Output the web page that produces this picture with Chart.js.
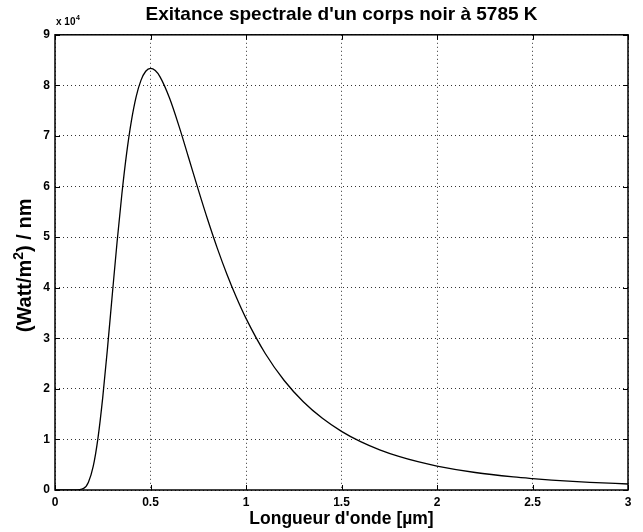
<!DOCTYPE html>
<html>
<head>
<meta charset="utf-8">
<script src="https://cdn.jsdelivr.net/npm/chart.js@4/dist/chart.umd.min.js"></script>
<style>
html,body{margin:0;padding:0;background:#fff;}
#wrap{width:643px;height:532px;position:relative;}
</style>
</head>
<body>
<div id="wrap"><canvas id="c" width="643" height="532"></canvas></div>
<script>
// Wavelength (µm)
const wavelengths = [0, 0.05, 0.10, 0.15, 0.175, 0.20, 0.225, 0.25, 0.275, 0.30, 0.325, 0.35, 0.375, 0.40, 0.425, 0.45, 0.475, 0.50, 0.525, 0.55, 0.60, 0.65, 0.70, 0.75, 0.80, 0.85, 0.90, 0.95, 1.00, 1.10, 1.20, 1.30, 1.40, 1.50, 1.60, 1.70, 1.80, 1.90, 2.00, 2.20, 2.40, 2.50, 2.60, 2.80, 3.00];
// Spectral exitance ((Watt/m^2)/nm)
const exitance = [0, 0, 0, 310, 1530, 4650, 10270, 18320, 28100, 38650, 49030, 58480, 66550, 72990, 77790, 80990, 82790, 83360, 82930, 81680, 77450, 71840, 65640, 59380, 53370, 47770, 42660, 38050, 33930, 27040, 21650, 17450, 14170, 11600, 9560, 7940, 6640, 5590, 4740, 3460, 2580, 2250, 1970, 1520, 1190];
const xTicks = [0, 0.5, 1, 1.5, 2, 2.5, 3];
const yTicks = [0, 1, 2, 3, 4, 5, 6, 7, 8, 9];
const yScaleFactor = 10000;
const titleText = "Exitance spectrale d'un corps noir à 5785 K";
const xTitle = "Longueur d'onde [µm]";
const yTitleParts = ["(Watt/m", "2", ") / nm"];

const FONT = "'Liberation Sans', Arial, Helvetica, sans-serif";

const points = wavelengths.map((w, i) => ({x: w, y: exitance[i]}));

const boxPlugin = {
  id: 'boxPlugin',
  afterDraw(chart) {
    const {ctx, chartArea: a, scales} = chart;
    const xs = scales.x, ys = scales.y;
    ctx.save();
    ctx.strokeStyle = '#000';
    ctx.lineWidth = 1;
    ctx.beginPath();
    const tl = 5;
    xTicks.forEach(v => {
      const px = Math.round(xs.getPixelForValue(v)) + 0.5;
      ctx.moveTo(px, a.bottom); ctx.lineTo(px, a.bottom - tl);
      ctx.moveTo(px, a.top); ctx.lineTo(px, a.top + tl);
    });
    yTicks.forEach(v => {
      const py = Math.round(ys.getPixelForValue(v * yScaleFactor)) + 0.5;
      ctx.moveTo(a.left, py); ctx.lineTo(a.left + tl, py);
      ctx.moveTo(a.right, py); ctx.lineTo(a.right - tl, py);
    });
    ctx.stroke();
    ctx.lineWidth = 1.5;
    ctx.strokeRect(a.left, a.top, a.right - a.left, a.bottom - a.top);
    // exponent label
    ctx.fillStyle = '#000';
    ctx.textBaseline = 'alphabetic';
    ctx.textAlign = 'left';
    ctx.font = "bold 10px " + FONT;
    const ex = a.left + 1, ey = a.top - 10;
    ctx.fillText('x 10', ex, ey);
    const w = ctx.measureText('x 10').width;
    ctx.font = "bold 7px " + FONT;
    ctx.fillText('4', ex + w + 0.5, ey - 5);
    // y axis title with superscript
    const big = "bold 20px " + FONT, small = "bold 14px " + FONT;
    ctx.font = big; const w1 = ctx.measureText(yTitleParts[0]).width;
    const w3 = ctx.measureText(yTitleParts[2]).width;
    ctx.font = small; const w2 = ctx.measureText(yTitleParts[1]).width;
    const total = w1 + w2 + w3;
    const cy = (a.top + a.bottom) / 2 + 3;
    ctx.translate(31, cy);
    ctx.rotate(-Math.PI / 2);
    let x0 = -total / 2;
    ctx.font = big; ctx.fillText(yTitleParts[0], x0, 0);
    ctx.font = small; ctx.fillText(yTitleParts[1], x0 + w1, -8);
    ctx.font = big; ctx.fillText(yTitleParts[2], x0 + w1 + w2, 0);
    ctx.restore();
  }
};

new Chart(document.getElementById('c'), {
  type: 'line',
  data: {
    datasets: [{
      data: points,
      borderColor: '#000',
      borderWidth: 1.3,
      pointRadius: 0,
      fill: false,
      cubicInterpolationMode: 'monotone'
    }]
  },
  options: {
    responsive: false,
    animation: false,
    layout: {padding: {left: 0, right: 15, top: 0, bottom: 0}},
    plugins: {
      legend: {display: false},
      tooltip: {enabled: false},
      title: {
        display: true,
        text: titleText,
        fullSize: false,
        color: '#000',
        font: {family: FONT, size: 19, weight: 'bold', lineHeight: 1.2},
        padding: {top: 3, bottom: 9}
      }
    },
    scales: {
      x: {
        type: 'linear',
        min: 0, max: 3,
        afterBuildTicks: (s) => { s.ticks = xTicks.map(v => ({value: v})); },
        afterFit: (s) => { s.height = 42; },
        ticks: {
          color: '#000',
          font: {family: FONT, size: 12, weight: 'bold'},
          padding: 5,
          maxRotation: 0,
          callback: (v) => String(v)
        },
        grid: {color: '#333', lineWidth: 1, drawTicks: false, tickLength: 0},
        border: {display: false, dash: [1, 3]},
        title: {
          display: true,
          text: xTitle,
          color: '#000',
          font: {family: FONT, size: 17.5, weight: 'bold', lineHeight: 1},
          padding: {top: 0, bottom: 4}
        }
      },
      y: {
        type: 'linear',
        min: 0, max: 90000,
        afterBuildTicks: (s) => { s.ticks = yTicks.map(v => ({value: v * yScaleFactor})); },
        afterFit: (s) => { s.width = 55; },
        ticks: {
          color: '#000',
          font: {family: FONT, size: 12, weight: 'bold'},
          padding: 5,
          callback: (v) => String(v / yScaleFactor)
        },
        grid: {color: '#333', lineWidth: 1, drawTicks: false, tickLength: 0},
        border: {display: false, dash: [1, 3]},
        title: {display: false}
      }
    }
  },
  plugins: [boxPlugin]
});
</script>
</body>
</html>
